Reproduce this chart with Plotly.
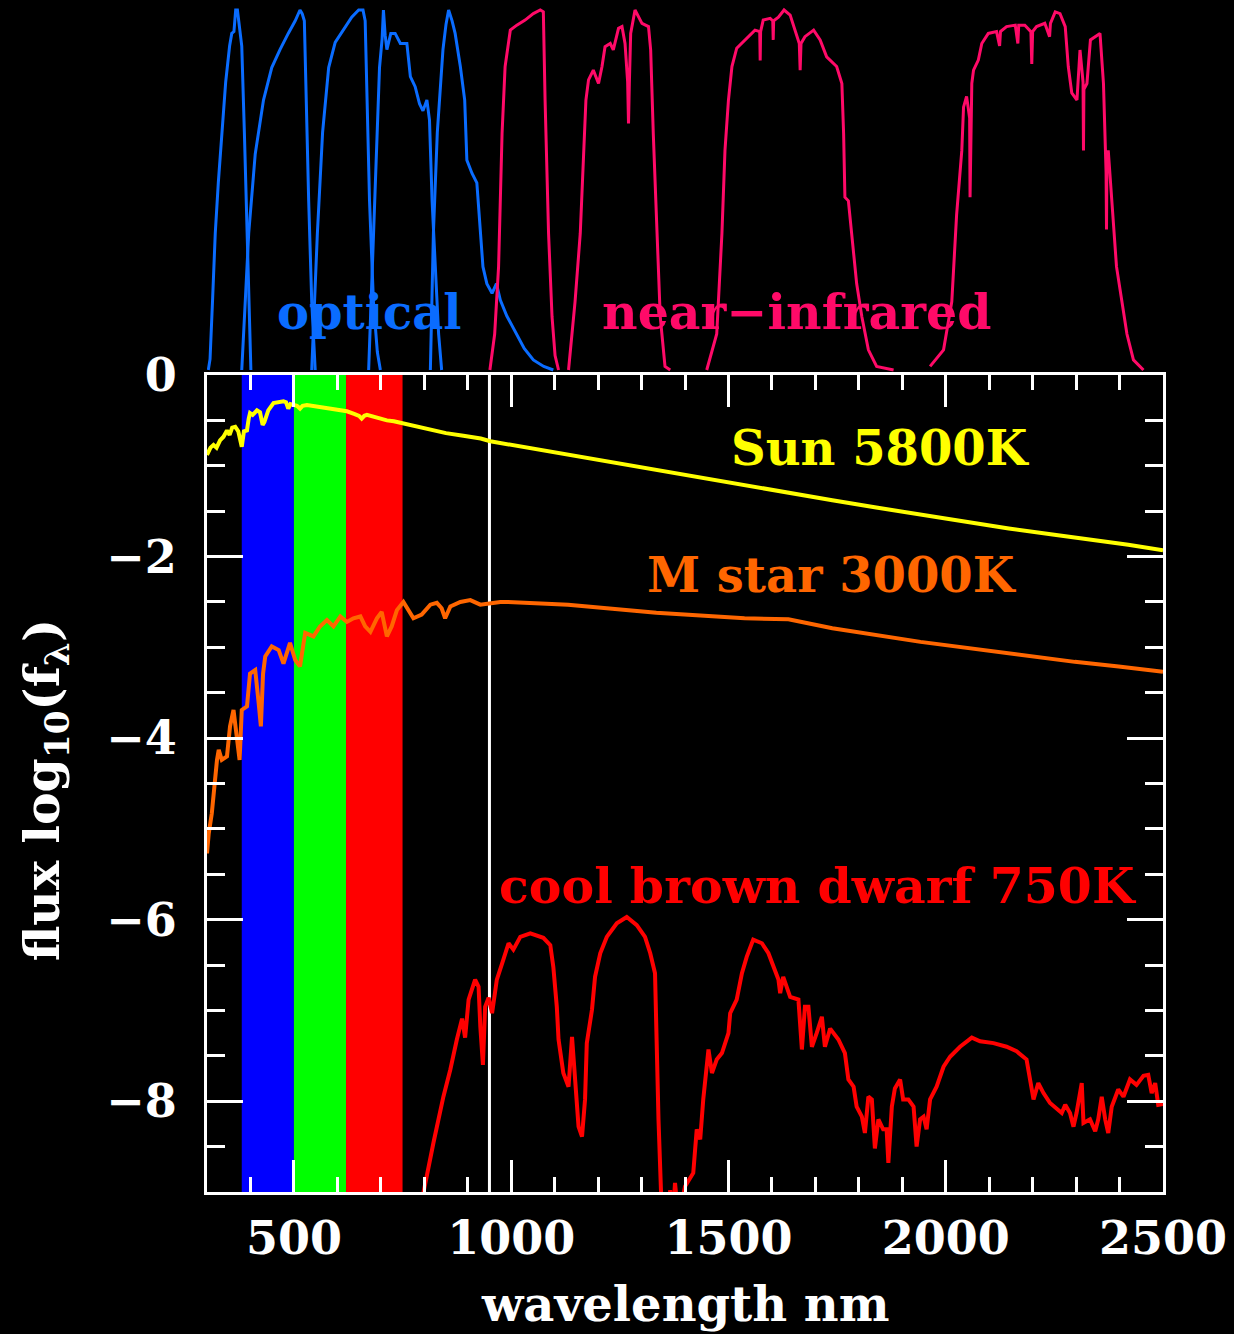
import plotly.graph_objects as go

# ---------------- filter transmission curves (top panel) ----------------
u_wl = [303, 307, 313, 319, 326, 334, 343, 352, 357, 362, 366, 370, 374, 380, 386, 392, 397, 401]
u_tr = [0.0, 0.03, 0.2, 0.38, 0.52, 0.66, 0.80, 0.90, 0.935, 0.94, 1.0, 1.0, 0.96, 0.90, 0.66, 0.38, 0.15, 0.0]

g_wl = [380, 388, 396, 411, 430, 449, 468, 487, 503, 514, 519, 524, 528, 534, 541, 549]
g_tr = [0.0, 0.2, 0.38, 0.60, 0.75, 0.84, 0.89, 0.935, 0.97, 1.0, 0.99, 0.97, 0.75, 0.47, 0.19, 0.0]

r_wl = [541, 548, 554, 566, 580, 595, 614, 633, 649, 659, 664, 668, 674, 683, 692, 699]
r_tr = [0.0, 0.2, 0.38, 0.66, 0.84, 0.91, 0.945, 0.98, 1.0, 1.0, 0.97, 0.75, 0.47, 0.19, 0.05, 0.0]

i_wl = [672, 678, 683, 691, 697, 703, 706, 710, 714, 723, 733, 745,
        760, 768, 779, 789, 797, 806, 812, 818, 825, 833, 840]
i_tr = [0.0, 0.2, 0.38, 0.66, 0.84, 0.92, 1.0, 0.93, 0.89, 0.935, 0.935, 0.907,
        0.907, 0.815, 0.787, 0.74, 0.72, 0.75, 0.694, 0.47, 0.287, 0.10, 0.0]

z_wl = [814, 821, 830, 843, 850, 856, 864, 871, 883, 893, 898, 910, 921,
        929, 935, 944, 956, 966, 975, 990, 1013, 1030, 1051, 1075, 1097]
z_tr = [0.0, 0.38, 0.66, 0.89, 0.96, 1.0, 0.97, 0.935, 0.843, 0.75, 0.583, 0.546, 0.52,
        0.38, 0.287, 0.24, 0.213, 0.24, 0.194, 0.15, 0.10, 0.06, 0.028, 0.01, 0.0]

Y_wl = [951, 962, 971, 979, 986, 998, 1013, 1032, 1051, 1067, 1074, 1078, 1086, 1094, 1101, 1109]
Y_tr = [0.0, 0.1, 0.287, 0.657, 0.843, 0.944, 0.958, 0.972, 0.99, 1.0, 0.995, 0.75, 0.38, 0.148, 0.04, 0.0]

J_wl = [1132, 1147, 1159, 1166, 1172, 1178, 1189, 1201, 1209, 1216,
        1228, 1235, 1247, 1255, 1262, 1268, 1270, 1272, 1275, 1285,
        1301, 1316, 1321, 1327, 1335, 1343, 1354, 1366]
J_tr = [0.0, 0.19, 0.38, 0.565, 0.75, 0.806, 0.833, 0.796, 0.843, 0.898,
        0.907, 0.889, 0.949, 0.954, 0.907, 0.80, 0.685, 0.80, 0.935, 1.0,
        0.963, 0.954, 0.889, 0.657, 0.38, 0.148, 0.01, 0.0]

H_wl = [1450, 1473, 1485, 1492, 1500, 1508, 1519, 1538, 1561, 1572,
        1573, 1574, 1580, 1596, 1602, 1603, 1604, 1615, 1628, 1642,
        1653, 1663, 1665, 1667, 1676, 1696, 1711, 1726, 1749, 1761,
        1765, 1768, 1776, 1784, 1795, 1807, 1822, 1841, 1880]
H_tr = [0.0, 0.10, 0.38, 0.61, 0.75, 0.843, 0.894, 0.917, 0.944, 0.94,
        0.86, 0.94, 0.972, 0.977, 0.97, 0.917, 0.97, 0.98, 1.0, 0.986,
        0.944, 0.907, 0.833, 0.907, 0.926, 0.944, 0.917, 0.87, 0.843, 0.796,
        0.657, 0.48, 0.47, 0.38, 0.24, 0.148, 0.056, 0.01, 0.0]

K_wl = [1964, 1995, 2014, 2025, 2037, 2041, 2048, 2055, 2056, 2058,
        2060, 2064, 2075, 2083, 2098, 2117, 2124, 2126, 2140, 2160,
        2166, 2168, 2182, 2196, 2198, 2200, 2209, 2228, 2239, 2241,
        2252, 2263, 2275, 2282, 2290, 2302, 2309, 2316, 2317, 2318,
        2325, 2333, 2344, 2355, 2363, 2367, 2369, 2370, 2371, 2374,
        2382, 2393, 2405, 2417, 2432, 2455]
K_tr = [0.01, 0.056, 0.19, 0.43, 0.61, 0.73, 0.76, 0.70, 0.48, 0.74,
        0.796, 0.833, 0.861, 0.907, 0.935, 0.94, 0.90, 0.94, 0.954, 0.958,
        0.907, 0.958, 0.958, 0.94, 0.85, 0.94, 0.954, 0.963, 0.926, 0.963,
        0.995, 0.99, 0.954, 0.843, 0.77, 0.75, 0.889, 0.80, 0.61, 0.78,
        0.796, 0.917, 0.926, 0.935, 0.796, 0.657, 0.55, 0.39, 0.60, 0.61,
        0.47, 0.287, 0.194, 0.10, 0.028, 0.0]

# ---------------- spectra (main panel), log10 flux ----------------
sun_wl = [
    300, 308, 315, 322, 330, 338, 346, 352, 358, 365,
    372, 376, 380, 385, 392, 396, 399, 405, 415, 422,
    428, 432, 441, 453, 465, 476, 482, 487, 492, 499,
    507, 514, 520, 530, 545, 560, 575, 591, 605, 622,
    640, 650, 656, 662, 668, 690, 714, 730, 748, 780,
    814, 850, 890, 930, 952, 1000, 1044, 1131, 1200, 1334,
    1440, 1537, 1640, 1739, 1840, 1942, 2045, 2145, 2250, 2347,
    2420, 2500]
sun_flux = [
    -0.88, -0.80, -0.77, -0.80, -0.72, -0.68, -0.61, -0.66, -0.58, -0.57,
    -0.62, -0.72, -0.79, -0.62, -0.61, -0.48, -0.42, -0.44, -0.39, -0.41,
    -0.55, -0.52, -0.39, -0.31, -0.30, -0.29, -0.30, -0.37, -0.32, -0.33,
    -0.34, -0.37, -0.34, -0.33, -0.34, -0.35, -0.36, -0.37, -0.38, -0.40,
    -0.43, -0.45, -0.48, -0.45, -0.44, -0.47, -0.50, -0.51, -0.53, -0.57,
    -0.61, -0.64, -0.67, -0.70, -0.73, -0.77, -0.80, -0.88, -0.94, -1.05,
    -1.14, -1.22, -1.30, -1.38, -1.46, -1.54, -1.62, -1.69, -1.76, -1.82,
    -1.87, -1.93]

mstar_wl = [
    300, 304, 311, 315, 323, 327, 334, 346, 353, 361,
    369, 375, 380, 392, 399, 411, 419, 424, 429, 434,
    449, 465, 476, 491, 503, 514, 526, 545, 560, 576,
    591, 607, 622, 637, 653, 664, 676, 691, 702, 714,
    725, 737, 752, 764, 775, 794, 814, 829, 840, 848,
    860, 883, 906, 929, 952, 975, 989, 1131, 1334, 1537,
    1638, 1739, 1942, 2145, 2297, 2398, 2500]
mstar_flux = [
    -5.27, -5.05, -4.83, -4.61, -4.24, -4.13, -4.24, -4.20, -3.87, -3.69,
    -3.98, -4.24, -3.69, -3.65, -3.29, -3.25, -3.62, -3.87, -3.29, -3.10,
    -2.99, -3.03, -3.18, -2.95, -3.14, -3.21, -2.84, -2.88, -2.77, -2.70,
    -2.77, -2.66, -2.72, -2.68, -2.66, -2.77, -2.83, -2.68, -2.61, -2.88,
    -2.77, -2.59, -2.50, -2.59, -2.68, -2.64, -2.53, -2.51, -2.57, -2.68,
    -2.55, -2.50, -2.48, -2.53, -2.51, -2.50, -2.50, -2.53, -2.62, -2.68,
    -2.69, -2.79, -2.94, -3.07, -3.16, -3.21, -3.27]

bd_wl = [
    790, 798, 821, 844, 860, 875, 887, 894, 902, 917,
    925, 929, 935, 940, 948, 956, 967, 982, 994, 1005,
    1021, 1044, 1074, 1090, 1097, 1105, 1109, 1120, 1132, 1140,
    1147, 1155, 1163, 1170, 1174, 1186, 1193, 1205, 1220, 1243,
    1266, 1289, 1308, 1320, 1331, 1335, 1339, 1347, 1355, 1366,
    1372, 1377, 1385, 1400, 1419, 1427, 1435, 1442, 1454, 1462,
    1473, 1485, 1500, 1504, 1519, 1531, 1542, 1557, 1577, 1592,
    1603, 1615, 1619, 1626, 1642, 1661, 1669, 1676, 1684, 1692,
    1703, 1715, 1722, 1734, 1753, 1768, 1776, 1788, 1795, 1807,
    1814, 1822, 1830, 1837, 1845, 1856, 1864, 1868, 1876, 1883,
    1895, 1902, 1914, 1926, 1933, 1941, 1949, 1956, 1964, 1979,
    1995, 2010, 2033, 2060, 2079, 2110, 2140, 2163, 2186, 2194,
    2202, 2213, 2225, 2240, 2255, 2267, 2275, 2286, 2294, 2301,
    2313, 2317, 2332, 2344, 2351, 2359, 2367, 2374, 2382, 2397,
    2409, 2424, 2439, 2455, 2466, 2474, 2482, 2489, 2500]
bd_flux = [
    -9.2, -9.0, -8.46, -7.95, -7.65, -7.32, -7.09, -7.30, -6.88, -6.66,
    -6.74, -7.18, -7.60, -6.96, -6.86, -7.03, -6.66, -6.44, -6.26, -6.33,
    -6.19, -6.15, -6.20, -6.28, -6.52, -6.96, -7.32, -7.69, -7.84, -7.29,
    -7.73, -8.28, -8.39, -7.98, -7.36, -6.99, -6.63, -6.37, -6.19, -6.04,
    -5.97, -6.06, -6.19, -6.37, -6.59, -7.62, -8.20, -9.3, -9.5, -8.98,
    -9.3, -8.90, -9.3, -8.94, -8.79, -8.31, -8.42, -7.98, -7.43, -7.69,
    -7.54, -7.47, -7.25, -7.03, -6.88, -6.59, -6.41, -6.22, -6.26, -6.37,
    -6.52, -6.66, -6.81, -6.63, -6.85, -6.88, -7.43, -6.96, -6.96, -7.40,
    -7.25, -7.07, -7.40, -7.20, -7.32, -7.47, -7.76, -7.84, -8.06, -8.17,
    -8.35, -7.95, -7.98, -8.52, -8.20, -8.31, -8.31, -8.68, -8.06, -7.86,
    -7.76, -7.98, -7.98, -8.06, -8.50, -8.20, -8.17, -8.31, -7.98, -7.84,
    -7.62, -7.51, -7.40, -7.30, -7.34, -7.36, -7.40, -7.45, -7.54, -7.76,
    -7.98, -7.80, -7.91, -8.02, -8.08, -8.13, -8.04, -8.13, -8.28, -8.13,
    -7.80, -8.24, -8.20, -8.33, -8.20, -7.95, -8.20, -8.35, -8.06, -7.87,
    -7.95, -7.76, -7.82, -7.72, -7.71, -7.91, -7.80, -8.04, -8.03]

# colour bands (nm) and the vertical marker
band_edges = [380, 500, 620, 750]
band_colors = ["#0000ff", "#00ff00", "#ff0000"]
marker_wl = 950

x_ticks = [500, 1000, 1500, 2000, 2500]
y_ticks = [0, -2, -4, -6, -8]

BLUE = "#0a6cff"
PINK = "#ff0a68"
FONT = "DejaVu Serif"

fig = go.Figure()

for wl, tr in [(u_wl, u_tr), (g_wl, g_tr), (r_wl, r_tr), (i_wl, i_tr), (z_wl, z_tr)]:
    fig.add_trace(go.Scatter(x=wl, y=tr, xaxis="x", yaxis="y2", mode="lines",
                             line=dict(color=BLUE, width=3), hoverinfo="skip"))
for wl, tr in [(Y_wl, Y_tr), (J_wl, J_tr), (H_wl, H_tr), (K_wl, K_tr)]:
    fig.add_trace(go.Scatter(x=wl, y=tr, xaxis="x", yaxis="y2", mode="lines",
                             line=dict(color=PINK, width=3), hoverinfo="skip"))

fig.add_trace(go.Scatter(x=sun_wl, y=sun_flux, mode="lines",
                         line=dict(color="#ffff00", width=4)))
fig.add_trace(go.Scatter(x=mstar_wl, y=mstar_flux, mode="lines",
                         line=dict(color="#ff6600", width=4)))
fig.add_trace(go.Scatter(x=bd_wl, y=bd_flux, mode="lines",
                         line=dict(color="#ff0000", width=4)))

shapes = []
for k, c in enumerate(band_colors):
    shapes.append(dict(type="rect", xref="x", yref="y", x0=band_edges[k], x1=band_edges[k + 1],
                       y0=-9, y1=0, fillcolor=c, line=dict(width=0), layer="below"))
shapes.append(dict(type="line", xref="x", yref="y", x0=marker_wl, x1=marker_wl, y0=-9, y1=0,
                   line=dict(color="white", width=3), layer="below"))

def label(text, x, y, color, yref="y", xref="x", angle=0, xanchor="left", size=50):
    return dict(text="<b>" + text + "</b>", x=x, y=y, xref=xref, yref=yref,
                xanchor=xanchor, yanchor="middle",
                showarrow=False, textangle=angle,
                font=dict(family=FONT, size=size, color=color))

annotations = [
    label("Sun 5800K", 1501, -0.80, "#ffff00", size=48),
    label("M star 3000K", 1308, -2.20, "#ff6600", size=48),
    label("cool brown dwarf 750K", 968, -5.63, "#ff0000", size=49),
    label("optical", 457, 0.16, BLUE, yref="y2", size=48),
    label("near\u2212infrared", 1205, 0.16, PINK, yref="y2", size=49),
    label("flux log<sub>10</sub>(f<sub>\u03bb</sub>)", -0.1695, 0.337, "white",
          xref="paper", yref="paper", angle=-90, xanchor="center", size=49),
    label("wavelength nm", 0.5, -0.094, "white", xref="paper", yref="paper",
          xanchor="center", size=48),
]

axis_common = dict(showline=True, linecolor="white", linewidth=3, mirror="ticks",
                   ticks="inside", tickwidth=3, tickcolor="white",
                   showgrid=False, zeroline=False, automargin=False,
                   tickfont=dict(family=FONT, size=46, color="white", weight="bold"))

fig.update_layout(
    width=1234, height=1334,
    paper_bgcolor="black", plot_bgcolor="black",
    margin=dict(l=207, r=71, t=0, b=142, pad=0, autoexpand=False),
    showlegend=False, hovermode=False,
    shapes=shapes, annotations=annotations,
    xaxis=dict(range=[300, 2500], domain=[0, 1], anchor="y",
               tickvals=x_ticks, ticklen=32, ticklabelstandoff=4,
               minor=dict(dtick=100, tick0=0, ticklen=15, tickwidth=3, tickcolor="white", ticks="inside"),
               **axis_common),
    yaxis=dict(range=[-9, 0], domain=[0, 0.6854], anchor="x",
               tickvals=y_ticks, ticklen=36, ticklabelstandoff=18,
               minor=dict(dtick=0.5, tick0=0, ticklen=18, tickwidth=3, tickcolor="white", ticks="inside"),
               **axis_common),
    yaxis2=dict(range=[-0.0139, 1.0278], domain=[0.6854, 1], anchor="x", visible=False,
                automargin=False),
)

fig.write_html("out.html", config={"displayModeBar": False},
               post_script="document.body.style.margin='0';document.body.style.overflow='hidden';")
